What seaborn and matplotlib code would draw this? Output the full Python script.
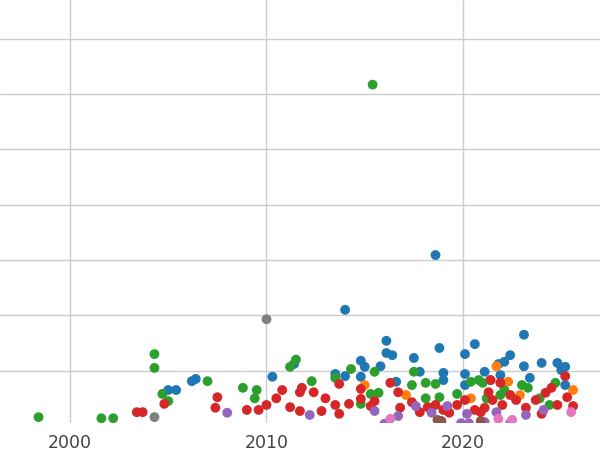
import matplotlib
matplotlib.use("Agg")
import matplotlib.pyplot as plt
import seaborn as sns
import pandas as pd

blue_x = [2005.0,2005.4,2006.2,2006.4,2010.3,2011.4,2013.5,2014.0,2014.0,2014.8,2014.8,2015.0,2015.8,2016.1,2016.1,2016.4,2016.6,2017.5,2017.8,2018.6,2018.8,2019.0,2019.0,2020.1,2020.1,2020.1,2020.6,2021.1,2021.8,2022.1,2022.4,2023.1,2023.1,2023.4,2024.0,2024.8,2025.2,2025.2,2025.0,2021.9]
blue_y = [6.5,6.5,8.1,8.5,8.9,11.2,9.4,21,9,11.8,8.9,10.7,10.8,15.4,13.2,12.8,8,12.3,9.8,30.9,14.1,9.6,8.3,13,9.4,7.4,14.8,9.8,11.2,11.6,12.8,10.8,16.5,8.7,11.4,11.4,10.7,7.4,10.1,9.2]
orange_x = [2015.0,2017.1,2018.3,2021.7,2022.3,2022.9,2025.6,2020.4]
orange_y = [7.4,5.6,3.3,10.8,8,5.6,6.5,5]
green_x = [1998.4,2001.6,2002.2,2004.3,2004.3,2004.7,2005.0,2007.0,2008.8,2009.5,2009.4,2011.2,2011.5,2012.3,2013.5,2014.3,2015.4,2014.8,2015.3,2015.5,2015.7,2017.4,2017.5,2018.1,2018.1,2018.6,2018.8,2019.7,2020.8,2021.0,2021.2,2021.4,2022.1,2023.0,2023.3,2024.4,2024.7,2023.9,2020.4,2021.9]
green_y = [1.6,1.4,1.4,13,10.5,5.8,4.5,8.1,6.9,6.5,5,10.7,12,8.1,8.7,10.3,61.7,4,5.8,9.8,6,7.4,9.8,7.8,5,7.6,5.2,5.8,8.3,7.8,5,8.3,6.5,7.4,6.9,3.8,7.8,5,8,5.6]
red_x = [2003.4,2003.7,2004.8,2007.4,2007.5,2009.0,2009.6,2010.0,2010.5,2010.8,2011.2,2011.7,2011.8,2011.7,2012.4,2012.8,2013.0,2013.5,2013.7,2013.7,2014.2,2014.8,2014.8,2015.3,2015.5,2016.3,2016.7,2016.8,2017.4,2017.8,2018.2,2018.6,2019.0,2019.3,2019.7,2020.1,2020.6,2021.1,2021.3,2021.5,2022.0,2022.4,2022.7,2023.2,2023.7,2024.0,2024.2,2024.5,2024.8,2025.2,2025.3,2025.6,2021.4,2021.9,2020.9]
red_y = [2.5,2.5,4,3.3,5.2,2.9,2.9,3.8,5,6.5,3.4,2.7,6.9,6.1,6.1,2.7,5,3.8,7.6,2.2,4,6.7,4.9,3.6,4.5,7.8,6.1,3.3,4.3,2.5,3.4,3.8,2.9,2.4,3.8,4.7,2.9,3.3,6.1,4.7,3.8,5.6,4.7,3.3,4.7,2.2,6,6.9,3.8,9,5.2,3.6,8.3,7.8,2.5]
purple_x = [2008.0,2012.2,2015.5,2016.0,2016.7,2017.6,2018.4,2019.2,2019.9,2020.2,2020.3,2021.1,2021.7,2022.4,2023.2,2024.1]
purple_y = [2.4,2,2.7,0.4,1.8,3.6,2.4,3.6,0.5,2.2,0.5,0.7,2.5,0.5,2,2.9]
brown_x = [2018.7,2018.9,2020.9]
brown_y = [1.1,0.9,0.9]
pink_x = [2016.3,2021.8,2022.5,2025.5]
pink_y = [1.3,1.3,1.1,2.5]
gray_x = [2004.3,2010.0]
gray_y = [1.6,19.3]

groups = [("A", blue_x, blue_y), ("B", orange_x, orange_y), ("C", green_x, green_y),
          ("D", red_x, red_y), ("E", purple_x, purple_y), ("F", brown_x, brown_y),
          ("G", pink_x, pink_y), ("H", gray_x, gray_y)]
rows = []
for g, xs, ys in groups:
    rows += [{"year": x, "value": y, "group": g} for x, y in zip(xs, ys)]
df = pd.DataFrame(rows)

sns.set_theme(style="whitegrid")
fig = plt.figure(figsize=(6, 4.5), dpi=100)
ax = fig.add_axes([0, 0.06, 1, 0.94])
sns.scatterplot(data=df, x="year", y="value", hue="group",
                hue_order=[g[0] for g in groups], palette="tab10",
                s=50, linewidth=0, legend=False, ax=ax, clip_on=True)
ax.set_xlim(1996.44, 2026.97)
ax.set_ylim(0.54, 77)
ax.set_xticks([2000, 2010, 2020])
ax.set_yticks([10, 20, 30, 40, 50, 60, 70])
ax.set_yticklabels([])
ax.tick_params(axis="x", labelsize=12.5, labelcolor="#444444", pad=2)
ax.tick_params(axis="y", length=0)
ax.set_xlabel("")
ax.set_ylabel("")
for s in ax.spines.values():
    s.set_visible(False)
fig.savefig("out.png", dpi=100)
